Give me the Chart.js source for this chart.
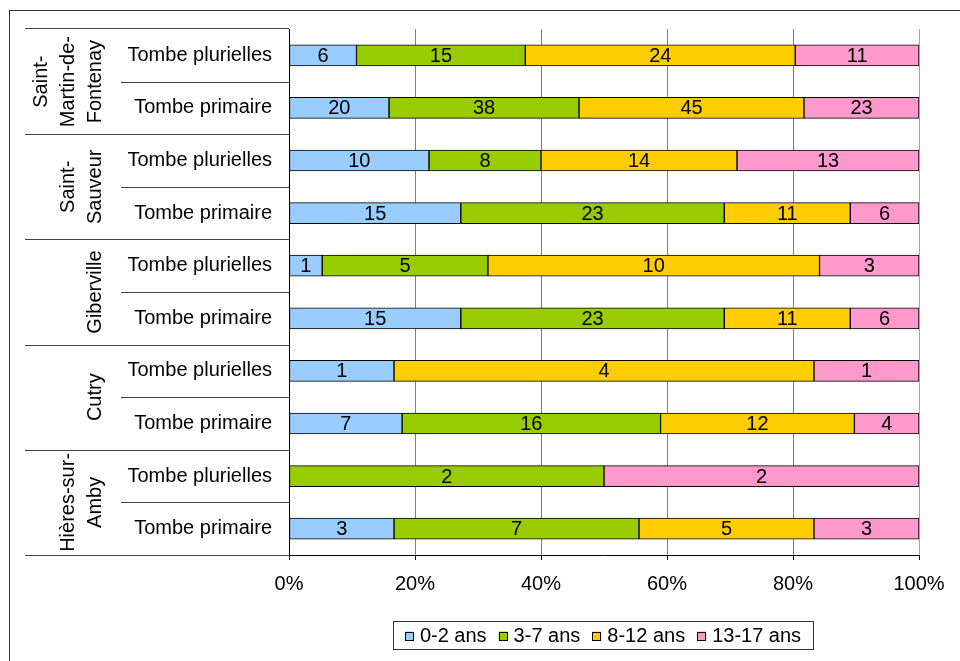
<!DOCTYPE html>
<html><head><meta charset="utf-8"><title>Tombes par classe d'âge</title>
<script src="https://cdn.jsdelivr.net/npm/chart.js"></script>
<style>html,body{margin:0;padding:0;background:#fff;} #wrap{width:960px;height:661px;}</style>
</head><body><div id="wrap"><canvas id="chart" width="960" height="661"></canvas></div>
<script>
// sites (multi-line names as drawn in the original), top to bottom
var sites = [["Saint-", "Martin-de-", "Fontenay"], ["Saint-", "Sauveur"], ["Giberville"], ["Cutry"], ["Hières-sur-", "Amby"]];
var tombes = ["Tombe plurielles", "Tombe primaire"];
var series = ["0-2 ans", "3-7 ans", "8-12 ans", "13-17 ans"];
var colors = ["#99ccff", "#99cc00", "#ffcc00", "#ff99cc"];
// counts per row, same order as the labels
var ans02   = [6, 20, 10, 15, 1, 15, 1, 7, 0, 3];
var ans37   = [15, 38, 8, 23, 5, 23, 0, 16, 2, 7];
var ans812  = [24, 45, 14, 11, 10, 11, 4, 12, 0, 5];
var ans1317 = [11, 23, 13, 6, 3, 6, 1, 4, 2, 3];
var xTicks = [0, 20, 40, 60, 80, 100];

var FONT = "'Liberation Sans', Arial, sans-serif";
var labels = [];
sites.forEach(function() { tombes.forEach(function(t) { labels.push(t); }); });
var counts = [ans02, ans37, ans812, ans1317];
var totals = labels.map(function(_, j) { return ans02[j] + ans37[j] + ans812[j] + ans1317[j]; });

var datasets = counts.map(function(c, i) {
    return {
        label: series[i],
        data: c.map(function(v, j) { return v / totals[j] * 100; }),
        raw: c,
        backgroundColor: colors[i],
        borderColor: '#000',
        borderWidth: 1,
        borderSkipped: false,
        barThickness: 21
    };
});

var extras = {
    id: 'extras',
    afterDatasetsDraw: function(chart) {
        var ctx = chart.ctx;
        ctx.save();
        ctx.fillStyle = '#000';
        ctx.font = '20px ' + FONT;
        ctx.textAlign = 'center';
        ctx.textBaseline = 'middle';
        chart.data.datasets.forEach(function(ds, i) {
            chart.getDatasetMeta(i).data.forEach(function(el, j) {
                if (ds.raw[j] > 0) ctx.fillText(String(ds.raw[j]), (el.x + el.base) / 2, el.y + 1);
            });
        });
        ctx.restore();
    },
    afterDraw: function(chart) {
        var ctx = chart.ctx, ys = chart.scales.y, area = chart.chartArea;
        ctx.save();
        // outer frame
        ctx.strokeStyle = '#333';
        ctx.lineWidth = 1;
        ctx.strokeRect(9.5, 10.5, 1200, 1200);

        // category separators in the label area
        ctx.strokeStyle = '#444';
        function hline(y, x0) {
            y = Math.round(y) + 0.5;
            ctx.beginPath(); ctx.moveTo(x0, y); ctx.lineTo(area.left, y); ctx.stroke();
        }
        hline(area.top - 1, 25);
        for (var j = 0; j < labels.length - 1; j++) {
            var b = (ys.getPixelForValue(j) + ys.getPixelForValue(j + 1)) / 2;
            hline(b, (j % 2 === 1) ? 25 : 121);
        }
        hline(area.bottom, 25);

        // site names, rotated
        ctx.fillStyle = '#000';
        ctx.font = '20px ' + FONT;
        ctx.textAlign = 'center';
        ctx.textBaseline = 'alphabetic';
        sites.forEach(function(lines, i) {
            var yc = (ys.getPixelForValue(2 * i) + ys.getPixelForValue(2 * i + 1)) / 2;
            lines.forEach(function(t, k) {
                var bx = 101 - (lines.length - 1 - k) * 27;
                ctx.save();
                ctx.translate(bx, yc);
                ctx.rotate(-Math.PI / 2);
                ctx.fillText(t, 0, 0);
                ctx.restore();
            });
        });

        // legend with frame
        var bx0 = 393, by0 = 621, bw = 420, bh = 28;
        ctx.fillStyle = '#fff';
        ctx.fillRect(bx0, by0, bw, bh);
        ctx.strokeStyle = '#333';
        ctx.strokeRect(bx0 + 0.5, by0 + 0.5, bw, bh);
        var sq = 9, gap = 6, itemGap = 12;
        var total = 0;
        series.forEach(function(s, i) { total += sq + gap + ctx.measureText(s).width + (i ? itemGap : 0); });
        var x = bx0 + (bw - total) / 2, yc = by0 + bh / 2 + 1;
        ctx.textAlign = 'left';
        ctx.textBaseline = 'middle';
        series.forEach(function(s, i) {
            ctx.fillStyle = colors[i];
            ctx.fillRect(x, yc - sq / 2, sq, sq);
            ctx.strokeStyle = '#000';
            ctx.strokeRect(Math.round(x) + 0.5, Math.round(yc - sq / 2) + 0.5, sq - 1, sq - 1);
            ctx.fillStyle = '#000';
            ctx.fillText(s, x + sq + gap, yc);
            x += sq + gap + ctx.measureText(s).width + itemGap;
        });
        ctx.restore();
    }
};

new Chart(document.getElementById('chart'), {
    type: 'bar',
    data: { labels: labels, datasets: datasets },
    options: {
        indexAxis: 'y',
        responsive: false,
        animation: false,
        layout: { padding: { top: 27, right: 41, left: 0, bottom: 0 } },
        plugins: { legend: { display: false }, tooltip: { enabled: false } },
        scales: {
            x: {
                stacked: true, min: 0, max: 100,
                afterBuildTicks: function(s) { s.ticks = xTicks.map(function(v) { return { value: v }; }); },
                ticks: { callback: function(v) { return v + '%'; }, color: '#000', font: { family: FONT, size: 20 }, padding: 12, maxRotation: 0 },
                grid: {
                    color: function(c) { return c.tick && c.tick.value === 100 ? '#a6a6a6' : (c.tick && c.tick.value === 0 ? '#000' : '#808080'); },
                    tickColor: '#000', tickLength: 5
                },
                border: { color: '#000' },
                afterFit: function(s) { s.height = 106; }
            },
            y: {
                stacked: true,
                ticks: { color: '#000', font: { family: FONT, size: 20 }, padding: 17 },
                grid: { display: false, drawTicks: false, tickLength: 0 },
                border: { color: '#000' },
                afterFit: function(s) { s.width = 289; }
            }
        }
    },
    plugins: [extras]
});
</script>
</body></html>
